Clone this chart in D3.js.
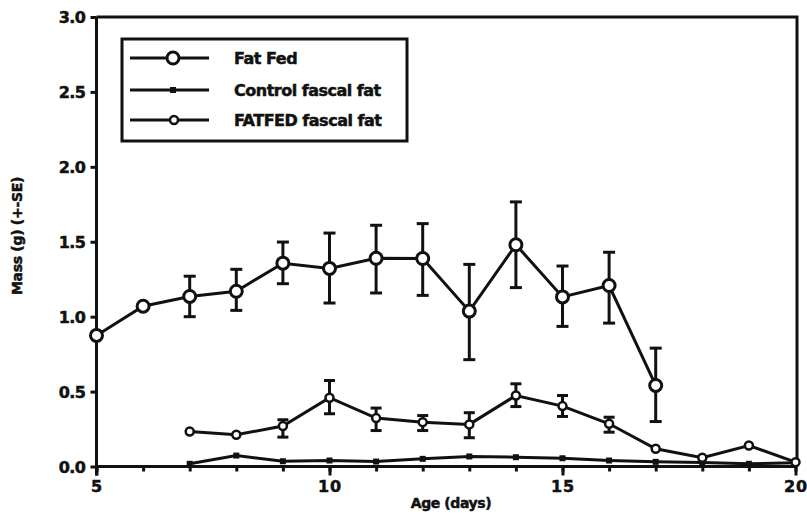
<!DOCTYPE html>
<html>
<head>
<meta charset="utf-8">
<script src="https://cdn.jsdelivr.net/npm/d3@7"></script>
<style>
  html, body { margin: 0; padding: 0; background: #fff; }
  svg { display: block; }
  text { font-family: "DejaVu Sans", sans-serif; font-weight: bold; fill: #111; stroke: #111; stroke-width: 0.5px; }
</style>
</head>
<body>
<svg id="chart" width="807" height="515"></svg>
<script>
// Age in days for each series
const fatFedDays = [5, 6, 7, 8, 9, 10, 11, 12, 13, 14, 15, 16, 17];
const faecalDays = [7, 8, 9, 10, 11, 12, 13, 14, 15, 16, 17, 18, 19, 20];

// Fat Fed body mass (g) with SE limits
const fatFed   = [0.875, 1.07, 1.135, 1.17, 1.357, 1.322, 1.39, 1.388, 1.037, 1.48, 1.132, 1.208, 0.541];
const fatFedHi = [null, null, 1.27, 1.316, 1.498, 1.558, 1.61, 1.621, 1.349, 1.766, 1.338, 1.43, 0.79];
const fatFedLo = [null, null, 1.0, 1.042, 1.22, 1.091, 1.158, 1.142, 0.713, 1.194, 0.935, 0.957, 0.30];

// Control faecal fat (g)
const controlFaecal = [0.018, 0.073, 0.035, 0.04, 0.033, 0.051, 0.067, 0.062, 0.055, 0.04, 0.031, 0.026, 0.018, 0.025];

// FATFED faecal fat (g) with SE limits
const fatfedFaecal   = [0.234, 0.212, 0.27, 0.459, 0.323, 0.296, 0.281, 0.474, 0.403, 0.285, 0.118, 0.058, 0.14, 0.029];
const fatfedFaecalHi = [null, null, 0.312, 0.574, 0.39, 0.34, 0.359, 0.552, 0.474, 0.329, null, null, null, null];
const fatfedFaecalLo = [null, null, 0.196, 0.352, 0.24, 0.24, 0.192, 0.40, 0.334, 0.229, null, null, null, null];

const yTicks = [0, 0.5, 1.0, 1.5, 2.0, 2.5, 3.0];
const xMajorTicks = [5, 10, 15, 20];
const xMinorTicks = d3.range(5, 21);

const legendLabels = ["Fat Fed", "Control fascal fat", "FATFED fascal fat"];

const svg = d3.select("#chart");
const x = d3.scaleLinear().domain([5, 20]).range([96.5, 795.5]);
const y = d3.scaleLinear().domain([0, 3]).range([466.5, 17]);
const ink = "#111";

// Frame: top and right edges
svg.append("path")
  .attr("d", `M${x(5)},${y(3)} H797 V${y(0)}`)
  .attr("fill", "none").attr("stroke", ink).attr("stroke-width", 3);

// Y axis
const gy = svg.append("g").attr("transform", `translate(${x(5)},0)`)
  .call(d3.axisLeft(y).tickValues(yTicks).tickSize(6).tickPadding(5).tickFormat(d3.format(".1f")));
gy.select(".domain").attr("stroke", ink).attr("stroke-width", 3).attr("d", `M0,${y(3)}V${y(0) + 9}`);
gy.selectAll(".tick line").attr("stroke", ink).attr("stroke-width", 3);
gy.selectAll(".tick text").attr("font-size", 16).attr("dy", "0.36em").attr("letter-spacing", "-0.5");

// X axis: minor ticks every day
const gxMinor = svg.append("g").attr("transform", `translate(0,${y(0)})`)
  .call(d3.axisBottom(x).tickValues(xMinorTicks).tickSize(5).tickFormat(""));
gxMinor.select(".domain").attr("stroke", ink).attr("stroke-width", 3).attr("d", `M${x(5)},0H797`);
gxMinor.selectAll(".tick line").attr("stroke", ink).attr("stroke-width", 3);

// X axis: major ticks with labels
const gx = svg.append("g").attr("transform", `translate(0,${y(0)})`)
  .call(d3.axisBottom(x).tickValues(xMajorTicks).tickSize(9).tickPadding(5).tickFormat(d3.format("d")));
gx.select(".domain").remove();
gx.selectAll(".tick line").attr("stroke", ink).attr("stroke-width", 3);
gx.selectAll(".tick text").attr("font-size", 16).attr("letter-spacing", "1");

// Axis titles
svg.append("text")
  .attr("transform", `translate(22,236) rotate(-90)`)
  .attr("text-anchor", "middle").attr("font-size", 14).attr("letter-spacing", "-0.3")
  .text("Mass (g) (+-SE)");
svg.append("text")
  .attr("x", 451).attr("y", 508)
  .attr("text-anchor", "middle").attr("font-size", 14).attr("letter-spacing", "-0.4")
  .text("Age (days)");

const line = d3.line().x(d => x(d[0])).y(d => y(d[1]));

function errorBars(days, hi, lo, cap) {
  const g = svg.append("g").attr("stroke", ink).attr("stroke-width", 3);
  days.forEach((d, i) => {
    if (hi[i] == null) return;
    g.append("line").attr("x1", x(d)).attr("x2", x(d)).attr("y1", y(hi[i])).attr("y2", y(lo[i]));
    g.append("line").attr("x1", x(d) - cap).attr("x2", x(d) + cap).attr("y1", y(hi[i])).attr("y2", y(hi[i]));
    g.append("line").attr("x1", x(d) - cap).attr("x2", x(d) + cap).attr("y1", y(lo[i])).attr("y2", y(lo[i]));
  });
}

// Control faecal fat
svg.append("path").datum(faecalDays.map((d, i) => [d, controlFaecal[i]]))
  .attr("d", line).attr("fill", "none").attr("stroke", ink).attr("stroke-width", 3);
svg.append("g").selectAll("rect").data(faecalDays.map((d, i) => [d, controlFaecal[i]]))
  .join("rect")
  .attr("x", d => x(d[0]) - 3).attr("y", d => y(d[1]) - 3)
  .attr("width", 6).attr("height", 6).attr("fill", ink);

// FATFED faecal fat
errorBars(faecalDays, fatfedFaecalHi, fatfedFaecalLo, 5.5);
svg.append("path").datum(faecalDays.map((d, i) => [d, fatfedFaecal[i]]))
  .attr("d", line).attr("fill", "none").attr("stroke", ink).attr("stroke-width", 3);
svg.append("g").selectAll("circle").data(faecalDays.map((d, i) => [d, fatfedFaecal[i]]))
  .join("circle")
  .attr("cx", d => x(d[0])).attr("cy", d => y(d[1])).attr("r", 4)
  .attr("fill", "#fff").attr("stroke", ink).attr("stroke-width", 2.5);

// Fat Fed
errorBars(fatFedDays, fatFedHi, fatFedLo, 6);
svg.append("path").datum(fatFedDays.map((d, i) => [d, fatFed[i]]))
  .attr("d", line).attr("fill", "none").attr("stroke", ink).attr("stroke-width", 3);
svg.append("g").selectAll("circle").data(fatFedDays.map((d, i) => [d, fatFed[i]]))
  .join("circle")
  .attr("cx", d => x(d[0])).attr("cy", d => y(d[1])).attr("r", 6)
  .attr("fill", "#fff").attr("stroke", ink).attr("stroke-width", 3);

// Legend
const lg = svg.append("g");
lg.append("rect").attr("x", 122).attr("y", 39).attr("width", 285).attr("height", 102)
  .attr("fill", "#fff").attr("stroke", ink).attr("stroke-width", 3);
const rowsY = [58, 90, 120];
legendLabels.forEach((label, i) => {
  const ry = rowsY[i];
  lg.append("line").attr("x1", 130).attr("x2", 209).attr("y1", ry).attr("y2", ry)
    .attr("stroke", ink).attr("stroke-width", 3);
  if (i === 0) {
    lg.append("circle").attr("cx", 173).attr("cy", ry).attr("r", 6)
      .attr("fill", "#fff").attr("stroke", ink).attr("stroke-width", 3);
  } else if (i === 1) {
    lg.append("rect").attr("x", 170).attr("y", ry - 3).attr("width", 6).attr("height", 6).attr("fill", ink);
  } else {
    lg.append("circle").attr("cx", 174).attr("cy", ry).attr("r", 4)
      .attr("fill", "#fff").attr("stroke", ink).attr("stroke-width", 2.5);
  }
  lg.append("text").attr("x", 234).attr("y", ry + 6).attr("font-size", 16)
    .attr("letter-spacing", "-0.5").text(label);
});
</script>
</body>
</html>
